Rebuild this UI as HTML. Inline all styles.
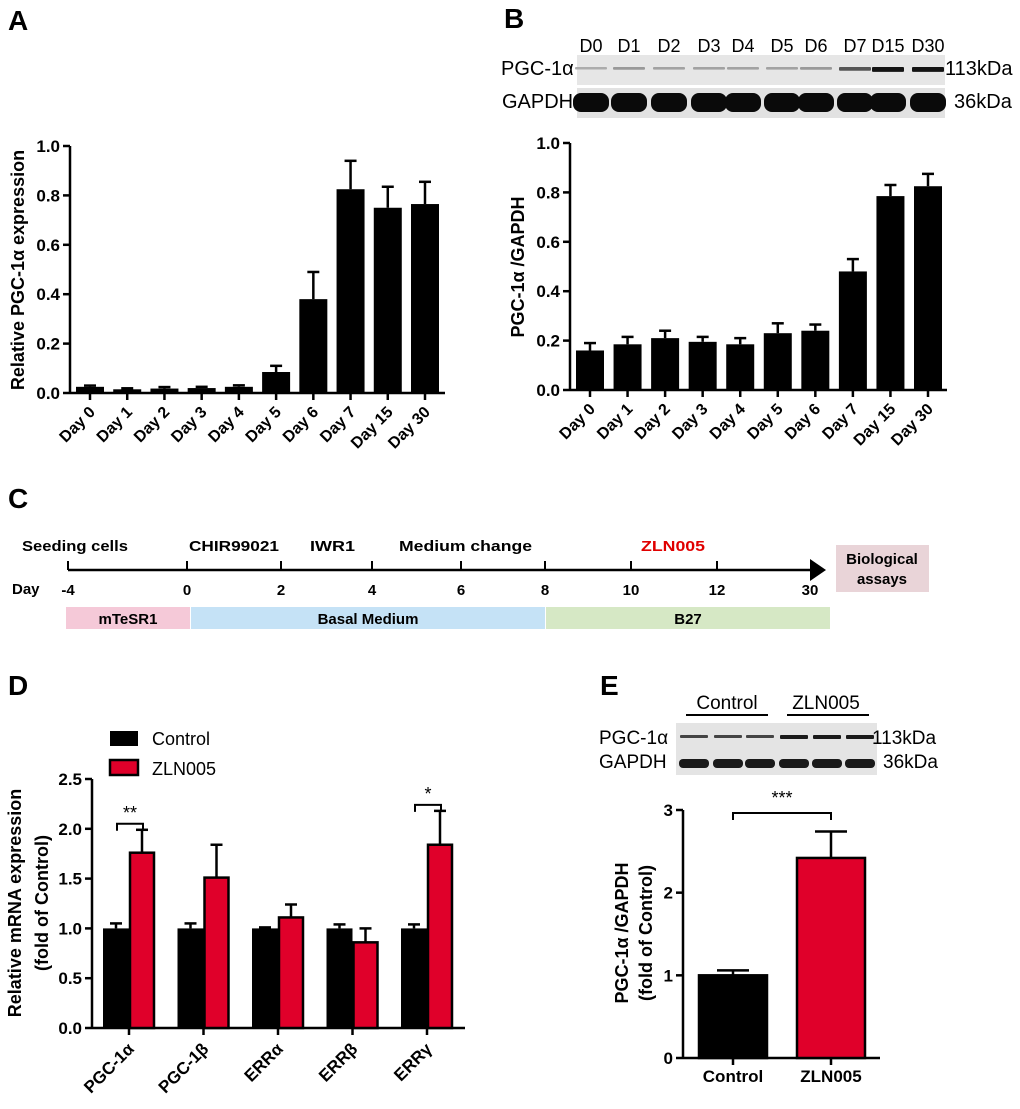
<!DOCTYPE html>
<html><head><meta charset="utf-8">
<style>
html,body{margin:0;padding:0;background:#fff;}
svg{display:block;font-family:"Liberation Sans",Arial,sans-serif;}
</style></head>
<body>
<svg id="fig" width="1020" height="1109" viewBox="0 0 1020 1109" xmlns="http://www.w3.org/2000/svg">
  <!-- panel letters -->
  <text x="8" y="30" font-size="28" font-weight="bold">A</text>
  <text x="504" y="28" font-size="28" font-weight="bold">B</text>
  <text x="8" y="508" font-size="28" font-weight="bold">C</text>
  <text x="8" y="695" font-size="28" font-weight="bold">D</text>
  <text x="600" y="695" font-size="28" font-weight="bold">E</text>

  <!-- Blot B -->
  <g>
    <rect x="577" y="55" width="368" height="30" fill="#e6e6e6"/>
    <rect x="577" y="88" width="368" height="30" fill="#e2e2e2"/>
    <g id="blotB"></g>
    <text x="501" y="75" font-size="20">PGC-1α</text>
    <text x="502" y="108" font-size="20">GAPDH</text>
    <text x="945" y="75" font-size="20">113kDa</text>
    <text x="954" y="108" font-size="20">36kDa</text>
  </g>

  <!-- Blot E -->
  <g>
    <text x="727" y="709" font-size="19" text-anchor="middle">Control</text>
    <line x1="686" y1="715" x2="768" y2="715" stroke="#000" stroke-width="2"/>
    <text x="826" y="709" font-size="19" text-anchor="middle">ZLN005</text>
    <line x1="787" y1="715" x2="869" y2="715" stroke="#000" stroke-width="2"/>
    <rect x="676" y="723" width="201" height="52" fill="#e4e4e4"/>
    <g id="blotE"></g>
    <text x="599" y="744" font-size="19">PGC-1α</text>
    <text x="599" y="768" font-size="19">GAPDH</text>
    <text x="872" y="744" font-size="19">113kDa</text>
    <text x="883" y="768" font-size="19">36kDa</text>
  </g>

  <!-- Panel C timeline -->
  <g font-weight="bold" font-size="15">
    <line x1="68" y1="570" x2="812" y2="570" stroke="#000" stroke-width="2.5"/>
    <polygon points="810,559 826,570 810,581" fill="#000"/>
    <g id="tlTicks"></g>
    <text x="22" y="551" textLength="106" lengthAdjust="spacingAndGlyphs">Seeding cells</text>
    <text x="189" y="551" textLength="90" lengthAdjust="spacingAndGlyphs">CHIR99021</text>
    <text x="310" y="551" textLength="45" lengthAdjust="spacingAndGlyphs">IWR1</text>
    <text x="399" y="551" textLength="133" lengthAdjust="spacingAndGlyphs">Medium change</text>
    <text x="641" y="551" fill="#e00000" textLength="64" lengthAdjust="spacingAndGlyphs">ZLN005</text>
    <text x="12" y="594">Day</text>
    <rect x="836" y="545" width="93" height="47" fill="#e9d4d8"/>
    <text x="882" y="564" text-anchor="middle">Biological</text>
    <text x="882" y="584" text-anchor="middle">assays</text>
    <rect x="66" y="607" width="124" height="22" fill="#f5c9d8"/>
    <rect x="191" y="607" width="354" height="22" fill="#c5e2f6"/>
    <rect x="546" y="607" width="284" height="22" fill="#d6e8c5"/>
    <text x="128" y="624" text-anchor="middle">mTeSR1</text>
    <text x="368" y="624" text-anchor="middle">Basal Medium</text>
    <text x="688" y="624" text-anchor="middle">B27</text>
  </g>

  <g id="chartA"></g>
  <g id="chartB"></g>
  <g id="chartD"></g>
  <g id="chartE"></g>
</svg>
<script>
const NS = "http://www.w3.org/2000/svg";
// ---- data ----
const daysCats = ["Day 0","Day 1","Day 2","Day 3","Day 4","Day 5","Day 6","Day 7","Day 15","Day 30"];
const aValues = [0.025,0.015,0.018,0.02,0.025,0.085,0.38,0.825,0.75,0.765];
const aErrors = [0.005,0.004,0.006,0.005,0.006,0.025,0.11,0.115,0.085,0.09];
const abTicks = [0,0.2,0.4,0.6,0.8,1.0];
const abTickLabels = ["0.0","0.2","0.4","0.6","0.8","1.0"];
const bValues = [0.16,0.185,0.21,0.195,0.185,0.23,0.24,0.48,0.785,0.825];
const bErrors = [0.03,0.03,0.03,0.02,0.025,0.04,0.025,0.05,0.045,0.05];
const blotBLanes = ["D0","D1","D2","D3","D4","D5","D6","D7","D15","D30"];
const blotBPgcIntensity = [0.15,0.25,0.2,0.2,0.2,0.2,0.25,0.6,0.95,0.95];
const dCats = ["PGC-1α","PGC-1β","ERRα","ERRβ","ERRγ"];
const dControl = [1.0,1.0,1.0,1.0,1.0];
const dControlErr = [0.05,0.05,0.01,0.04,0.04];
const dZln = [1.76,1.51,1.11,0.86,1.84];
const dZlnErr = [0.23,0.33,0.13,0.14,0.34];
const dTicks = [0,0.5,1.0,1.5,2.0,2.5];
const dTickLabels = ["0.0","0.5","1.0","1.5","2.0","2.5"];
const eCats = ["Control","ZLN005"];
const eValues = [1.0,2.42];
const eErrors = [0.06,0.32];
const eTicks = [0,1,2,3];
const eTickLabels = ["0","1","2","3"];
const tlDays = ["-4","0","2","4","6","8","10","12","30"];

function mk(parent, tag, attrs, text){
  const el = document.createElementNS(NS, tag);
  for (const k in attrs) el.setAttribute(k, attrs[k]);
  if (text !== undefined) el.textContent = text;
  parent.appendChild(el);
  return el;
}

// timeline ticks
(function(){
  const g = document.getElementById("tlTicks");
  const xs = [68,187,281,372,461,545,631,717,810];
  tlDays.forEach((d,i)=>{
    if (i < 8) {
      const t = mk(g,"line",{x1:xs[i],y1:561,x2:xs[i],y2:570,stroke:"#000","stroke-width":2});
      
      
    }
    const lb = mk(g,"text",{x:xs[i],y:595,"text-anchor":"middle"},d);
    
    
  });
})();

// blot B
(function(){
  const g = document.getElementById("blotB");
  const cx = [591,629,669,709,743,782,816,855,888,928];
  blotBLanes.forEach((l,i)=>{
    const t = mk(g,"text",{x:cx[i],y:52,"font-size":18,"text-anchor":"middle"},l);
    
    
    const v = Math.round(200 - blotBPgcIntensity[i]*190);
    const p = mk(g,"rect",{x:cx[i]-16,y:67,width:32,height:2+blotBPgcIntensity[i]*3,rx:1,fill:`rgb(${v},${v},${v})`});
    
    
    const gb = mk(g,"rect",{x:cx[i]-18,y:93,width:36,height:19,rx:8,fill:"#0a0a0a"});
    
    
  });
})();

// blot E
(function(){
  const g = document.getElementById("blotE");
  const cx = [694,728,760,794,827,860];
  cx.forEach((x,i)=>{
    const c = i<3 ? "#444" : "#1a1a1a";
    const p = mk(g,"rect",{x:x-14,y:735,width:28,height:i<3?3:4,rx:1,fill:c});
    
    
    const gb = mk(g,"rect",{x:x-15,y:759,width:30,height:9,rx:4,fill:"#1a1a1a"});
    
    
  });
})();

function axes(g, o){
  const ys = v => o.y0 - (v/o.max)*(o.y0-o.yTop);
  const ax = mk(g,"line",{x1:o.x0,y1:o.yTop,x2:o.x0,y2:o.y0+1,stroke:"#000","stroke-width":2.5});
  
  
  const xx = mk(g,"line",{x1:o.x0,y1:o.y0,x2:o.x1,y2:o.y0,stroke:"#000","stroke-width":2.5});
  
  
  o.ticks.forEach((t,i)=>{
    const y = ys(t);
    const tk = mk(g,"line",{x1:o.x0-7,y1:y,x2:o.x0,y2:y,stroke:"#000","stroke-width":2.5});
    
    
    const tl = mk(g,"text",{x:o.x0-10,y:y+6,"font-size":17,"font-weight":"bold","text-anchor":"end"},o.labels[i]);
    
    
  });
  return ys;
}
function errBar(g, x, yTopVal, yBar, half){
  const l = mk(g,"line",{x1:x,y1:yTopVal,x2:x,y2:yBar,stroke:"#000","stroke-width":2.5});
  
  
  const c = mk(g,"line",{x1:x-half,y1:yTopVal,x2:x+half,y2:yTopVal,stroke:"#000","stroke-width":2.5});
  
  
}
function rotLabel(g, x, y, txt, size){
  const t = mk(g,"text",{x:x,y:y,"font-size":size,"font-weight":"bold","text-anchor":"end",transform:`rotate(-45 ${x} ${y})`},txt);
  
  
}

function dayChart(id, vals, errs, o){
  const g = document.getElementById(id);
  const ys = axes(g, o);
  const step = (o.c1-o.c0)/(vals.length-1);
  vals.forEach((v,i)=>{
    const cx = o.c0 + i*step;
    errBar(g, cx, ys(v+errs[i]), ys(v), 6);
    const b = mk(g,"rect",{x:cx-14,y:ys(v),width:28,height:o.y0-ys(v),fill:"#000"});
    
    
    const tk = mk(g,"line",{x1:cx,y1:o.y0,x2:cx,y2:o.y0+7,stroke:"#000","stroke-width":2.5});
    
    
    rotLabel(g, cx+6, o.y0+20, daysCats[i], 16);
  });
  const t = mk(g,"text",{x:o.tx,y:o.ty,"font-size":18,"font-weight":"bold","text-anchor":"middle",transform:`rotate(-90 ${o.tx} ${o.ty})`},o.title);
  
  
}
dayChart("chartA", aValues, aErrors, {x0:70,x1:445,y0:393,yTop:146,max:1.0,ticks:abTicks,labels:abTickLabels,c0:90,c1:425,tx:24,ty:270,title:"Relative PGC-1α  expression"});
dayChart("chartB", bValues, bErrors, {x0:570,x1:947,y0:390,yTop:143,max:1.0,ticks:abTicks,labels:abTickLabels,c0:590,c1:928,tx:524,ty:267,title:"PGC-1α /GAPDH"});

// chart D
(function(){
  const g = document.getElementById("chartD");
  const o = {x0:92,x1:465,y0:1028,yTop:779,max:2.5,ticks:dTicks,labels:dTickLabels};
  const ys = axes(g,o);
  const c0 = 129, step = 74.5;
  dCats.forEach((c,i)=>{
    const cx = c0 + i*step;
    errBar(g, cx-13, ys(dControl[i]+dControlErr[i]), ys(dControl[i]), 6);
    const b = mk(g,"rect",{x:cx-26,y:ys(dControl[i]),width:26,height:o.y0-ys(dControl[i]),fill:"#000"});
    
    
    errBar(g, cx+13, ys(dZln[i]+dZlnErr[i]), ys(dZln[i]), 6);
    const r = mk(g,"rect",{x:cx+1,y:ys(dZln[i]),width:24,height:o.y0-ys(dZln[i]),fill:"#e0002a",stroke:"#000","stroke-width":2.5});
    
    
    const tk = mk(g,"line",{x1:cx,y1:o.y0,x2:cx,y2:o.y0+7,stroke:"#000","stroke-width":2.5});
    
    
    rotLabel(g, cx+6, o.y0+22, c, 17);
  });
  const sig = [[0,"**"],[4,"*"]];
  sig.forEach(([i,s])=>{
    const cx = c0 + i*step;
    const top = ys(Math.max(dZln[i]+dZlnErr[i], dControl[i]+dControlErr[i])) - 6;
    const p = mk(g,"path",{d:`M${cx-12},${top+7} V${top} H${cx+14} V${top+7}`,fill:"none",stroke:"#000","stroke-width":2});
    
    
    const t = mk(g,"text",{x:cx+1,y:top-5,"font-size":18,"text-anchor":"middle"},s);
    
    
  });
  const lg = mk(g,"g",{});
  
  
  const l1 = mk(lg,"rect",{x:110,y:731,width:28,height:15,fill:"#000"});
  
  
  const t1 = mk(lg,"text",{x:152,y:745,"font-size":18},"Control");
  
  
  const l2 = mk(lg,"rect",{x:110,y:760,width:28,height:15,fill:"#e0002a",stroke:"#000","stroke-width":2.5});
  
  
  const t2 = mk(lg,"text",{x:152,y:775,"font-size":18},"ZLN005");
  
  
  const y1 = mk(g,"text",{x:21,y:903,"font-size":18,"font-weight":"bold","text-anchor":"middle",transform:"rotate(-90 21 903)"},"Relative mRNA expression");
  
  
  const y2 = mk(g,"text",{x:48,y:903,"font-size":18,"font-weight":"bold","text-anchor":"middle",transform:"rotate(-90 48 903)"},"(fold of Control)");
  
  
})();

// chart E
(function(){
  const g = document.getElementById("chartE");
  const o = {x0:683,x1:880,y0:1058,yTop:810,max:3,ticks:eTicks,labels:eTickLabels};
  const ys = axes(g,o);
  const cxs = [733,831];
  const fills = ["#000","#e0002a"];
  eCats.forEach((c,i)=>{
    const cx = cxs[i];
    errBar(g, cx, ys(eValues[i]+eErrors[i]), ys(eValues[i]), 16);
    const b = mk(g,"rect",{x:cx-34,y:ys(eValues[i]),width:68,height:o.y0-ys(eValues[i]),fill:fills[i],stroke:"#000","stroke-width":2.5});
    
    
    const tk = mk(g,"line",{x1:cx,y1:o.y0,x2:cx,y2:o.y0+7,stroke:"#000","stroke-width":2.5});
    
    
    const t = mk(g,"text",{x:cx,y:1082,"font-size":17,"font-weight":"bold","text-anchor":"middle"},c);
    
    
  });
  const p = mk(g,"path",{d:"M733,820 V813 H831 V820",fill:"none",stroke:"#000","stroke-width":2});
  
  
  const s = mk(g,"text",{x:782,y:804,"font-size":18,"text-anchor":"middle"},"***");
  
  
  const y1 = mk(g,"text",{x:628,y:933,"font-size":18,"font-weight":"bold","text-anchor":"middle",transform:"rotate(-90 628 933)"},"PGC-1α /GAPDH");
  
  
  const y2 = mk(g,"text",{x:652,y:933,"font-size":18,"font-weight":"bold","text-anchor":"middle",transform:"rotate(-90 652 933)"},"(fold of Control)");
  
  
})();
</script>
</body></html>
